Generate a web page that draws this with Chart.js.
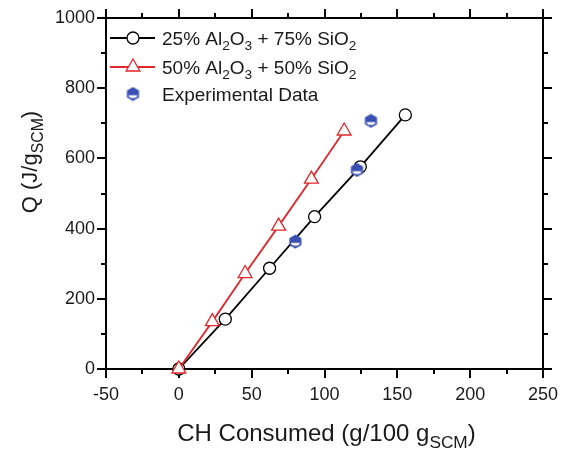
<!DOCTYPE html>
<html>
<head>
<meta charset="utf-8">
<script src="https://cdn.jsdelivr.net/npm/chart.js@4/dist/chart.umd.min.js"></script>
<style>
html,body{margin:0;padding:0;background:#fff;}
#wrap{width:561px;height:454px;position:relative;}
</style>
</head>
<body>
<div id="wrap"><canvas id="c" width="561" height="454"></canvas></div>
<script>
// ---- data ----
const ch25 = [0, 31.9, 62.3, 93.2, 124.6, 155.5];
const q25  = [0, 142, 287, 434, 576, 724];
const ch50 = [0, 23, 45.5, 68.5, 91, 113.5];
const q50  = [0, 135, 272, 407, 541, 678];
const chExp = [80, 122.3, 131.9];
const qExp  = [363, 567, 707];
const xTickValues = [-50, 0, 50, 100, 150, 200, 250];
const yTickValues = [0, 200, 400, 600, 800, 1000];
const seriesNames = [
  [{t:'25% Al'},{t:'2',s:1},{t:'O'},{t:'3',s:1},{t:' + 75% SiO'},{t:'2',s:1}],
  [{t:'50% Al'},{t:'2',s:1},{t:'O'},{t:'3',s:1},{t:' + 50% SiO'},{t:'2',s:1}],
  [{t:'Experimental Data'}]
];
const xTitle = [{t:'CH Consumed (g/100 g'},{t:'SCM',s:1},{t:')'}];
const yTitle = [{t:'Q (J/g'},{t:'SCM',s:1},{t:')'}];

const FONT = '"Liberation Sans", Arial, sans-serif';
const BLACK = '#000';
const RED = '#e3262b';
const BLUE = '#3b4fb3';

function hexCanvas(){
  const c = document.createElement('canvas');
  c.width = 15; c.height = 15;
  const g = c.getContext('2d');
  const cx = 7.5, cy = 7.5, r = 7;
  g.beginPath();
  for (let i=0;i<6;i++){
    const a = -Math.PI/2 + i*Math.PI/3;
    const px = cx + r*Math.cos(a), py = cy + r*Math.sin(a);
    if(i===0) g.moveTo(px,py); else g.lineTo(px,py);
  }
  g.closePath();
  g.fillStyle = BLUE; g.fill();
  g.save(); g.clip();
  g.beginPath();
  g.ellipse(cx, cy+1.2, 4.4, 2.8, 0, 0, Math.PI);
  g.closePath();
  g.fillStyle = '#fff'; g.fill();
  g.restore();
  return c;
}
const hexImg = hexCanvas();

function toPts(xs, ys){ return xs.map((v,i)=>({x:v, y:ys[i]})); }

function rich(ctx, parts, x, y, size, align){
  const sub = size*0.72;
  let w = 0;
  parts.forEach(p=>{ ctx.font = (p.s?sub:size)+'px '+FONT; w += ctx.measureText(p.t).width; });
  let cx = align==='center' ? x - w/2 : x;
  ctx.textBaseline = 'alphabetic';
  ctx.textAlign = 'left';
  parts.forEach(p=>{
    ctx.font = (p.s?sub:size)+'px '+FONT;
    ctx.fillText(p.t, cx, y + (p.s? size*0.28 : 0));
    cx += ctx.measureText(p.t).width;
  });
}

const framePlugin = {
  id:'frame',
  beforeDatasetsDraw(chart){
    const {ctx, chartArea:{left,right,top,bottom}, scales:{x,y}} = chart;
    ctx.save();
    ctx.strokeStyle = BLACK; ctx.lineWidth = 2;
    ctx.strokeRect(left, top, right-left, bottom-top);
    ctx.beginPath();
    for (let v=-50; v<=250; v+=25){
      const px = Math.round(x.getPixelForValue(v));
      const len = (v%50===0)?9:5;
      ctx.moveTo(px, bottom); ctx.lineTo(px, bottom+len);
      ctx.moveTo(px, top); ctx.lineTo(px, top-len);
    }
    for (let v=0; v<=1000; v+=100){
      const py = Math.round(y.getPixelForValue(v));
      const len = (v%200===0)?9:5;
      ctx.moveTo(left, py); ctx.lineTo(left-len, py);
      ctx.moveTo(right, py); ctx.lineTo(right+len, py);
    }
    ctx.stroke();
    ctx.restore();
  },
  afterDraw(chart){
    const {ctx, chartArea:{left,right}} = chart;
    ctx.save();
    ctx.fillStyle = '#1a1a1a';
    rich(ctx, xTitle, (left+right)/2 + 2, 441, 24, 'center');
    ctx.save();
    ctx.translate(37, 162);
    ctx.rotate(-Math.PI/2);
    rich(ctx, yTitle, 0, 0, 22, 'center');
    ctx.restore();
    // legend
    const rows = [38, 67, 94];
    const lx0 = 110, lx1 = 155, mx = 133, tx = 162;
    ctx.strokeStyle = BLACK; ctx.lineWidth = 1.8;
    ctx.beginPath(); ctx.moveTo(lx0, rows[0]); ctx.lineTo(lx1, rows[0]); ctx.stroke();
    ctx.beginPath(); ctx.arc(mx, rows[0], 6, 0, Math.PI*2);
    ctx.fillStyle = '#fff'; ctx.fill(); ctx.lineWidth = 1.3; ctx.stroke();
    ctx.strokeStyle = RED; ctx.lineWidth = 1.8;
    ctx.beginPath(); ctx.moveTo(lx0, rows[1]); ctx.lineTo(lx1, rows[1]); ctx.stroke();
    const r = 8;
    ctx.beginPath();
    ctx.moveTo(mx, rows[1]-r);
    ctx.lineTo(mx + r*Math.sin(Math.PI*2/3), rows[1] - r*Math.cos(Math.PI*2/3));
    ctx.lineTo(mx - r*Math.sin(Math.PI*2/3), rows[1] - r*Math.cos(Math.PI*2/3));
    ctx.closePath();
    ctx.fillStyle = '#fff'; ctx.fill(); ctx.lineWidth = 1.3; ctx.stroke();
    ctx.drawImage(hexImg, mx-7.5, rows[2]-7.5);
    ctx.fillStyle = '#1a1a1a';
    seriesNames.forEach((p,i)=> rich(ctx, p, tx, rows[i]+7, 19, 'left'));
    ctx.restore();
  }
};

new Chart(document.getElementById('c'), {
  type:'scatter',
  data:{
    datasets:[
      {label:'25% Al2O3 + 75% SiO2', data:toPts(ch25,q25), showLine:true,
       borderColor:BLACK, borderWidth:1.8, pointStyle:'circle', pointRadius:6,
       pointBackgroundColor:'#fff', pointBorderColor:BLACK, pointBorderWidth:1.3,
       order:2, clip:false},
      {label:'50% Al2O3 + 50% SiO2', data:toPts(ch50,q50), showLine:true,
       borderColor:RED, borderWidth:1.8, pointStyle:'triangle', pointRadius:8,
       pointBackgroundColor:'#fff', pointBorderColor:RED, pointBorderWidth:1.3,
       order:1, clip:false},
      {label:'Experimental Data', data:toPts(chExp,qExp), showLine:false,
       pointStyle:hexImg, pointRadius:7, order:0, clip:false}
    ]
  },
  options:{
    responsive:false, animation:false,
    layout:{padding:{left:0, right:18, top:18, bottom:0}},
    plugins:{legend:{display:false}, tooltip:{enabled:false}},
    scales:{
      x:{type:'linear', min:-50, max:250,
        afterBuildTicks(s){ s.ticks = xTickValues.map(v=>({value:v})); },
        afterFit(s){ s.height = 85; s.paddingLeft = 0; s.paddingRight = 0; },
        grid:{display:false, drawTicks:false}, border:{display:false},
        ticks:{font:{family:FONT, size:18}, color:'#1a1a1a', padding:15, maxRotation:0,
               callback:(v)=>String(v)}},
      y:{type:'linear', min:0, max:1000,
        afterBuildTicks(s){ s.ticks = yTickValues.map(v=>({value:v})); },
        afterFit(s){ s.width = 106; s.paddingTop = 0; s.paddingBottom = 0; },
        grid:{display:false, drawTicks:false}, border:{display:false},
        ticks:{font:{family:FONT, size:18}, color:'#1a1a1a', padding:11,
               callback:(v)=>String(v)}}
    }
  },
  plugins:[framePlugin]
});
</script>
</body>
</html>
